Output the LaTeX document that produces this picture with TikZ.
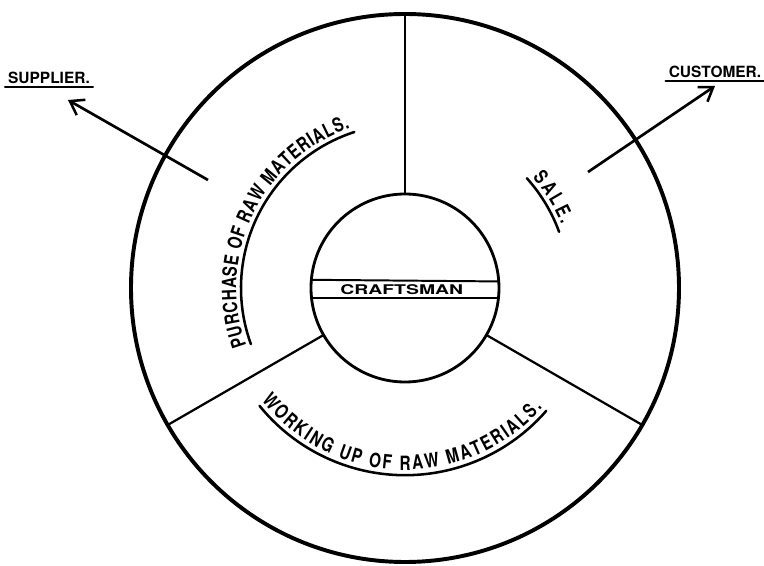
\documentclass[tikz,border=0pt]{standalone}
\usepackage{fontspec}
\setmainfont{TeX Gyre Heros}
\newfontfamily\hand[FakeStretch=0.78]{TeX Gyre Heros}
\usetikzlibrary{arrows.meta,positioning,decorations.text}

\begin{document}
\begin{tikzpicture}[
  rim/.style={circle,draw,line width=2.8pt,minimum size=13.7cm,inner sep=0pt,outer sep=0pt},
  hub/.style={circle,draw,line width=2pt,minimum size=4.7cm,inner sep=0pt,outer sep=0pt},
  spoke/.style={line width=1.6pt},
  band/.style={line width=1.4pt},
  tag/.style={font=\fontsize{11}{13}\selectfont\bfseries,inner sep=2pt},
  uline/.style={line width=1.8pt,line cap=round},
  arr/.style={-{Straight Barb[length=3.2mm,width=4.4mm,line width=1.8pt]},line width=1.9pt},
  curve/.style={decorate,decoration={text along path,text align=fit to path,
    text={|\hand\fontsize{14}{16}\selectfont\bfseries|#1}}}
]
\useasboundingbox (-10.125,-6.95) rectangle (8.975,7.2);

\node[rim] (rim) at (0,0) {};
\node[hub] (hub) at (0,0) {};
\draw[spoke] (hub.90) -- (rim.90);
\draw[spoke] (hub.210) -- (rim.210);
\draw[spoke] (hub.330) -- (rim.330);
\draw[band] (hub.175.1) -- (hub.4.9);
\draw[band] (hub.186.1) -- (hub.-6.1);
\node (craft) at (-0.08,-0.03) {\scalebox{1.45}[1]{\fontsize{9.5}{11}\selectfont\bfseries CRAFTSMAN}};

\node[tag] (sup) at (-8.9,5.25) {SUPPLIER.};
\node[tag] (cus) at (7.75,5.4) {CUSTOMER.};
\draw[uline] (sup.south west) -- (sup.south east);
\draw[uline] (cus.south west) -- (cus.south east);

\coordinate (sp) at (-4.925,2.7);
\coordinate (sptip) at (-8.425,4.7);
\coordinate (cs) at (4.575,2.9);
\coordinate (cstip) at (7.75,5.05);
\draw[arr] (sp) -- (sptip);
\draw[arr] (cs) -- (cstip);

\path[curve={PURCHASE OF RAW MATERIALS.}] (200:4.22) arc[start angle=200,end angle=109,radius=4.22];
\draw[uline] (200:4.1) arc[start angle=200,end angle=108,radius=4.1];
\path[curve={SALE.}] (41:4.22) arc[start angle=41,end angle=22,radius=4.22];
\draw[uline] (42:4.1) arc[start angle=42,end angle=20,radius=4.1];
\path[curve={WORKING UP OF RAW MATERIALS.}] (218:4.55) arc[start angle=218,end angle=319,radius=4.55];
\draw[uline] (219:4.68) arc[start angle=219,end angle=319,radius=4.68];
\end{tikzpicture}
\end{document}
